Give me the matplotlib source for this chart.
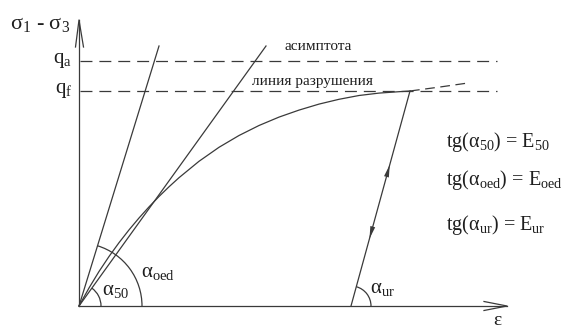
import numpy as np
import matplotlib.pyplot as plt
from matplotlib.patches import Arc

plt.rcParams['font.family'] = ['Liberation Serif', 'DejaVu Serif']
plt.rcParams['mathtext.fontset'] = 'custom'
plt.rcParams['mathtext.rm'] = 'Liberation Serif'
plt.rcParams['mathtext.it'] = 'Liberation Serif'
plt.rcParams['lines.scale_dashes'] = False

# stress-strain curve (hardening soil)
eps_curve = [0.0, 0.1, 0.2, 0.3, 0.4, 0.5, 0.6, 0.7, 0.8, 0.9, 1.0, 1.2, 1.4, 1.6,
             1.8, 2.0, 2.2, 2.4, 2.6, 2.8, 3.0, 3.2, 3.31]
q_curve = [0.0, 0.18, 0.345, 0.495, 0.633, 0.761, 0.88, 0.991, 1.095, 1.192, 1.283,
           1.447, 1.587, 1.705, 1.805, 1.889, 1.959, 2.019, 2.067, 2.105, 2.129, 2.143, 2.15]
# continuation past failure
eps_tail = [3.31, 3.61, 3.89]
q_tail = [2.15, 2.19, 2.23]

q_a = 2.45
q_f = 2.15
line_end = 4.18

# secant / tangent lines from the origin (end points)
oed_line = (0.80, 2.60)
e50_line = (1.87, 2.60)
# unloading-reloading branch
ur_start = (2.72, 0.0)
ur_end = (3.31, 2.15)

x_tip = 4.28
y_tip = 2.86

col = '#3a3a3a'
txt = '#1e1e1e'
lw = 0.9

fig = plt.figure(figsize=(5.7, 3.29), dpi=100)
ax = fig.add_axes([0, 0, 1, 1])
ax.set_xlim(-0.79, 4.91)
ax.set_ylim(-0.23, 3.06)
ax.axis('off')

# axes with open arrow heads
ax.plot([0, x_tip], [0, 0], color=col, lw=lw)
ax.plot([x_tip - 0.23, x_tip, x_tip - 0.23], [0.045, 0, -0.045], color=col, lw=lw)
ax.plot([0, 0], [0, y_tip], color=col, lw=lw)
ax.plot([-0.035, 0, 0.045], [y_tip - 0.27, y_tip, y_tip - 0.27], color=col, lw=lw)

# asymptote and failure lines
ax.plot([0.01, line_end], [q_a, q_a], color=col, lw=lw, dashes=(8.6, 5.0))
ax.plot([0.01, line_end], [q_f, q_f], color=col, lw=lw, dashes=(8.6, 5.0))

# curve
ax.plot(eps_curve, q_curve, color=col, lw=lw, solid_joinstyle='round')
ax.plot(eps_tail, q_tail, color=col, lw=lw, dashes=(7.0, 4.0))

# lines from the origin
ax.plot([0, oed_line[0]], [0, oed_line[1]], color=col, lw=lw)
ax.plot([0, e50_line[0]], [0, e50_line[1]], color=col, lw=lw)

# unloading / reloading with direction arrows
ax.plot([ur_start[0], ur_end[0]], [ur_start[1], ur_end[1]], color=col, lw=lw)
dx = ur_end[0] - ur_start[0]
dy = ur_end[1] - ur_start[1]
ux, uy = dx / np.hypot(dx, dy), dy / np.hypot(dx, dy)
for t, sgn in [(0.63, 1), (0.34, -1)]:
    px = ur_start[0] + t * dx
    py = ur_start[1] + t * dy
    d = 0.06 * sgn
    ax.annotate('', xy=(px + d * ux, py + d * uy), xytext=(px - d * ux, py - d * uy),
                arrowprops=dict(arrowstyle='-|>,head_length=0.9,head_width=0.18',
                                color=col, lw=0, shrinkA=0, shrinkB=0))

# angle arcs
ang_oed = np.degrees(np.arctan2(oed_line[1], oed_line[0]))
ang_50 = np.degrees(np.arctan2(e50_line[1], e50_line[0]))
ang_ur = np.degrees(np.arctan2(dy, dx))
ax.add_patch(Arc((0, 0), 1.26, 1.26, theta1=0, theta2=ang_oed, color=col, lw=lw))
ax.add_patch(Arc((0, 0), 0.44, 0.44, theta1=0, theta2=ang_50, color=col, lw=lw))
ax.add_patch(Arc(ur_start, 0.40, 0.40, theta1=0, theta2=ang_ur, color=col, lw=lw))

# labels
fs = 15
ax.text(-0.69, 2.81, r'$\mathrm{σ}_{\mathrm{1}}$ - $\mathrm{σ}_{\mathrm{3}}$', fontsize=16, va='center', ha='left', color=txt)
ax.text(-0.07, q_a, r'q$_{\mathrm{a}}$', fontsize=fs, va='center', ha='right', color=txt)
ax.text(-0.07, q_f, r'q$_{\mathrm{f}}$', fontsize=fs, va='center', ha='right', color=txt)
ax.text(2.39, 2.59, 'асимптота', fontsize=11, va='center', ha='center', color=txt)
ax.text(2.34, 2.25, 'линия разрушения', fontsize=11, va='center', ha='center', color=txt)
ax.text(4.18, -0.06, 'ε', fontsize=14, va='top', ha='center', color=txt)

ax.text(0.62, 0.33, r'$\mathrm{α}_{\mathrm{oed}}$', fontsize=fs, va='center', ha='left', color=txt)
ax.text(0.23, 0.15, r'$\mathrm{α}_{\mathrm{50}}$', fontsize=fs, va='center', ha='left', color=txt)
ax.text(2.91, 0.17, r'$\mathrm{α}_{\mathrm{ur}}$', fontsize=fs, va='center', ha='left', color=txt)

fsf = 14.5
ax.text(3.67, 1.64, r'tg($\mathrm{α}_{\mathrm{50}}$) = E$_{\mathrm{50}}$', fontsize=fsf, va='center', ha='left', color=txt)
ax.text(3.67, 1.26, r'tg($\mathrm{α}_{\mathrm{oed}}$) = E$_{\mathrm{oed}}$', fontsize=fsf, va='center', ha='left', color=txt)
ax.text(3.67, 0.81, r'tg($\mathrm{α}_{\mathrm{ur}}$) = E$_{\mathrm{ur}}$', fontsize=fsf, va='center', ha='left', color=txt)

fig.savefig('out.png', dpi=100)
